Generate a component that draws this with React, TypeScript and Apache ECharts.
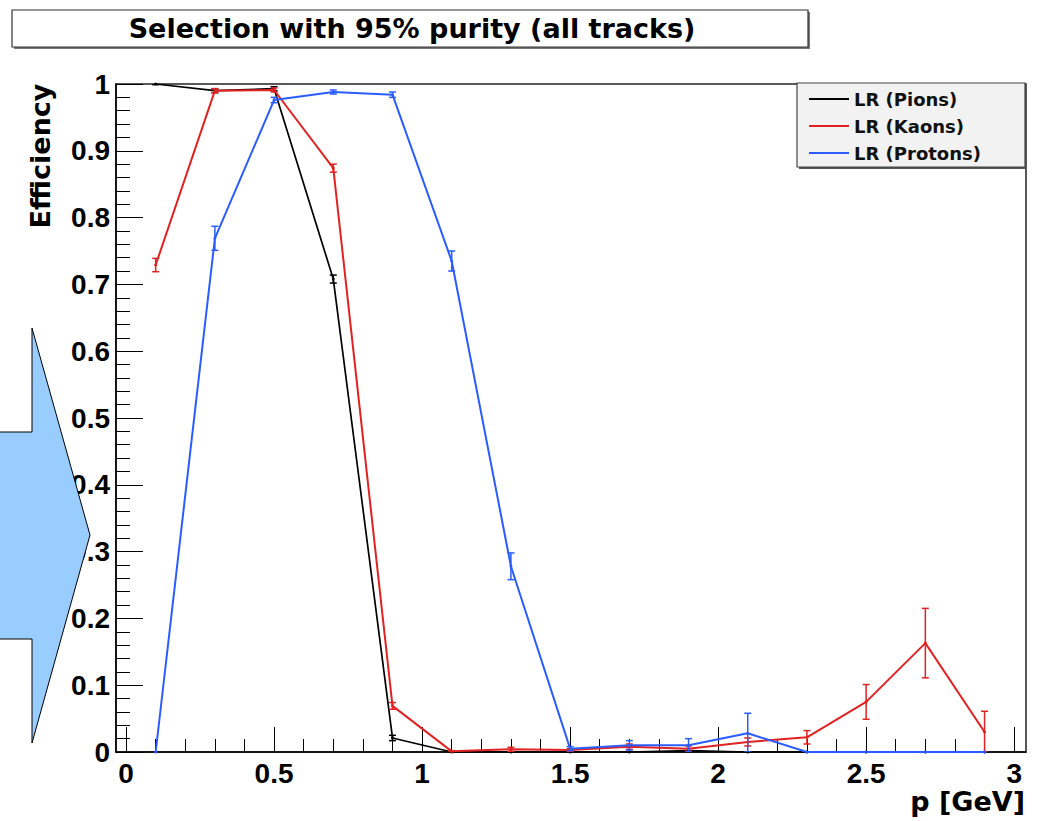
import React, { useEffect, useRef } from "react";
import * as echarts from "echarts";

const xValues = [0.1, 0.3, 0.5, 0.7, 0.9, 1.1, 1.3, 1.5, 1.7, 1.9, 2.1, 2.3, 2.5, 2.7, 2.9];
const pionEff = [1.0, 0.99, 0.993, 0.708, 0.021, 0.0, 0.0, 0.0, 0.0, 0.002, 0.0, 0.0, 0.0, 0.0, 0.0];
const pionErr = [0.001, 0.003, 0.003, 0.006, 0.004, 0, 0, 0, 0, 0, 0, 0, 0, 0, 0];
const kaonEff = [0.729, 0.99, 0.991, 0.874, 0.069, 0.001, 0.004, 0.003, 0.008, 0.005, 0.015, 0.022, 0.075, 0.163, 0.03];
const kaonErr = [0.01, 0.003, 0.003, 0.006, 0.005, 0.001, 0.003, 0.002, 0.004, 0.004, 0.006, 0.01, 0.026, 0.052, 0.031];
const protonEff = [0.0, 0.769, 0.976, 0.988, 0.984, 0.735, 0.278, 0.005, 0.01, 0.01, 0.028, 0, 0, 0, 0];
const protonErr = [0, 0.018, 0.004, 0.003, 0.004, 0.015, 0.02, 0.003, 0.007, 0.01, 0.03, 0, 0, 0, 0];

const seriesNames = ["LR (Pions)", "LR (Kaons)", "LR (Protons)"];
const majorXTicks = [0, 0.5, 1, 1.5, 2, 2.5, 3];
const minorXTicks = [0.1, 0.2, 0.3, 0.4, 0.6, 0.7, 0.8, 0.9, 1.1, 1.2, 1.3, 1.4, 1.6, 1.7, 1.8, 1.9, 2.1, 2.2, 2.3, 2.4, 2.6, 2.7, 2.8, 2.9];

const titleText = "Selection with 95% purity (all tracks)";
const yTitle = "Efficiency";
const xTitle = "p [GeV]";

const colors = ["#000000", "#e02222", "#2a5cff"];
const widths = [1.7, 2, 2];

function lineSeries(name: string, color: string, vals: number[], z: number, w: number) {
  return {
    type: "line",
    name,
    xAxisIndex: 0,
    yAxisIndex: 0,
    data: xValues.map((x, i) => [x, vals[i]]),
    showSymbol: true,
    symbol: "circle",
    symbolSize: 3,
    itemStyle: { color },
    lineStyle: { color, width: w },
    z,
    clip: true,
  };
}

function errSeries(name: string, color: string, vals: number[], errs: number[], z: number) {
  return {
    type: "custom",
    name: name + " err",
    xAxisIndex: 0,
    yAxisIndex: 0,
    clip: true,
    z,
    data: xValues.map((x, i) => [x, vals[i], errs[i]]),
    encode: { x: 0, y: 1 },
    renderItem: (params: any, api: any) => {
      const x = api.value(0);
      const y = api.value(1);
      const e = api.value(2);
      if (!e) return null;
      const top = api.coord([x, y + e]);
      const bot = api.coord([x, Math.max(0, y - e)]);
      const c = 3.5;
      const st = { stroke: color, lineWidth: 1.5 };
      return {
        type: "group",
        children: [
          { type: "line", shape: { x1: top[0], y1: top[1], x2: bot[0], y2: bot[1] }, style: st },
          { type: "line", shape: { x1: top[0] - c, y1: top[1], x2: top[0] + c, y2: top[1] }, style: st },
          { type: "line", shape: { x1: bot[0] - c, y1: bot[1], x2: bot[0] + c, y2: bot[1] }, style: st },
        ],
      };
    },
  };
}

export default function App() {
  const ref = useRef<HTMLDivElement>(null);
  useEffect(() => {
    document.body.style.margin = "0";
    const chart = echarts.init(ref.current!, null, { renderer: "svg" });
    const tickFont = { fontFamily: "Liberation Sans", fontWeight: "bold" as const, fontSize: 28, color: "#000" };
    chart.setOption({
      animation: false,
      backgroundColor: "#ffffff",
      grid: {
        left: 116,
        top: 84,
        width: 910,
        height: 668,
        show: true,
        borderColor: "#222",
        borderWidth: 1.5,
        backgroundColor: "transparent",
      },
      xAxis: [
        {
          type: "value",
          position: "bottom",
          min: -0.034,
          max: 3.04,
          axisLine: { show: true, onZero: false, lineStyle: { color: "#000", width: 1.5 } },
          axisTick: { show: true, inside: true, length: 25, customValues: majorXTicks, lineStyle: { color: "#000", width: 1 } },
          axisLabel: { show: true, customValues: majorXTicks, margin: 7, ...tickFont },
          splitLine: { show: false },
        },
        {
          type: "value",
          position: "bottom",
          min: -0.034,
          max: 3.04,
          axisLine: { show: false },
          axisTick: { show: true, inside: true, length: 13, customValues: minorXTicks, lineStyle: { color: "#000", width: 1 } },
          axisLabel: { show: false },
          splitLine: { show: false },
        },
      ],
      yAxis: [
        {
          type: "value",
          min: 0,
          max: 1,
          interval: 0.1,
          axisLine: { show: true, onZero: false, lineStyle: { color: "#000", width: 1.5 } },
          axisTick: { show: true, inside: true, length: 27, lineStyle: { color: "#000", width: 1 } },
          minorTick: { show: true, splitNumber: 5, length: 14, lineStyle: { color: "#000", width: 1 } },
          axisLabel: { show: true, margin: 6, ...tickFont },
          splitLine: { show: false },
        },
      ],
      legend: {
        data: seriesNames.map((n) => ({ name: n, icon: "rect" })),
        orient: "vertical",
        left: 804,
        top: 85,
        itemWidth: 40,
        itemHeight: 2,
        itemGap: 9,
        z: 30,
        textStyle: { fontFamily: "DejaVu Sans", fontWeight: "bold", fontSize: 18, color: "#111", lineHeight: 18 },
      },
      graphic: [
        { type: "rect", z: 20, shape: { x: 14, y: 12, width: 796, height: 37 }, style: { fill: "#777" } },
        { type: "rect", z: 21, shape: { x: 12, y: 10, width: 796, height: 37 }, style: { fill: "#fff", stroke: "#333", lineWidth: 1.2 } },
        {
          type: "text",
          z: 22,
          x: 412,
          y: 28,
          style: { text: titleText, fontFamily: "DejaVu Sans", fontWeight: "bold", fontSize: 27, fill: "#000", textAlign: "center", textVerticalAlign: "middle" },
        },
        { type: "rect", z: 20, shape: { x: 799, y: 85, width: 228, height: 84 }, style: { fill: "#555" } },
        { type: "rect", z: 21, shape: { x: 797, y: 83, width: 228, height: 84 }, style: { fill: "#f2f2f2", stroke: "#444", lineWidth: 1.2 } },
        {
          type: "text",
          z: 22,
          x: 40,
          y: 156,
          rotation: Math.PI / 2,
          style: { text: yTitle, fontFamily: "DejaVu Sans", fontWeight: "bold", fontSize: 27, fill: "#000", textAlign: "center", textVerticalAlign: "middle" },
        },
        {
          type: "text",
          z: 22,
          x: 1025,
          y: 801,
          style: { text: xTitle, fontFamily: "DejaVu Sans", fontWeight: "bold", fontSize: 27, fill: "#000", textAlign: "right", textVerticalAlign: "middle" },
        },
        {
          type: "polygon",
          z: 100,
          shape: { points: [[-5, 432], [32, 432], [32, 328], [90, 535], [32, 743], [32, 639], [-5, 639]] },
          style: { fill: "#99ccff", stroke: "#000", lineWidth: 1 },
        },
      ],
      series: [
        lineSeries(seriesNames[0], colors[0], pionEff, 2, widths[0]),
        errSeries(seriesNames[0], colors[0], pionEff, pionErr, 2),
        lineSeries(seriesNames[1], colors[1], kaonEff, 3, widths[1]),
        errSeries(seriesNames[1], colors[1], kaonEff, kaonErr, 3),
        lineSeries(seriesNames[2], colors[2], protonEff, 4, widths[2]),
        errSeries(seriesNames[2], colors[2], protonEff, protonErr, 4),
      ],
    });
    return () => chart.dispose();
  }, []);
  return <div ref={ref} style={{ width: 1037, height: 821 }} />;
}
